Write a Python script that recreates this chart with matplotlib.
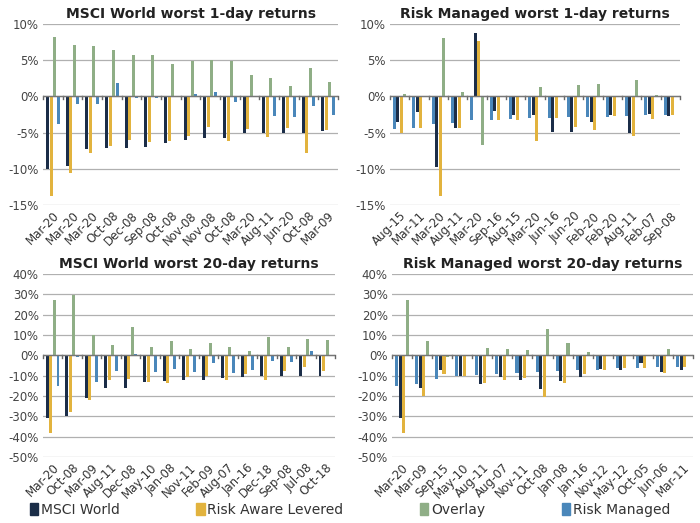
import matplotlib
matplotlib.use("Agg")
import matplotlib.pyplot as plt
import numpy as np
from matplotlib.patches import Patch

series = ["MSCI World", "Risk Aware Levered", "Overlay", "Risk Managed"]
colors = {"MSCI World": "#1b2d48", "Risk Aware Levered": "#e2b33e",
          "Overlay": "#8fae86", "Risk Managed": "#4a87ba"}

# Panel 1: MSCI World worst 1-day
p1_cats = ["Mar-20","Mar-20","Mar-20","Oct-08","Dec-08","Sep-08","Oct-08","Nov-08","Nov-08","Oct-08","Mar-20","Aug-11","Jun-20","Oct-08","Mar-09"]
p1_msci = [-10,-9.6,-7.2,-7.1,-7.1,-7.0,-6.4,-6.0,-5.8,-5.7,-5.1,-5.1,-5.0,-5.0,-4.8]
p1_ral  = [-13.8,-10.6,-7.8,-6.8,-6.0,-6.3,-6.2,-5.5,-4.2,-6.2,-4.5,-5.6,-4.3,-7.8,-4.6]
p1_ovl  = [8.2,7.1,7.0,6.4,5.7,5.7,4.5,4.9,5.0,4.9,3.0,2.5,1.5,3.9,2.0]
p1_rm   = [-3.8,-1.1,-1.1,1.8,-0.2,-0.2,-0.1,0.4,0.6,-0.8,-0.1,-2.7,-2.9,-1.3,-2.5]

# Panel 2: Risk Managed worst 1-day
p2_cats = ["Aug-15","Mar-11","Mar-20","Aug-11","Mar-20","Sep-16","Aug-15","Mar-20","Jun-16","Jun-20","Feb-20","Feb-20","Aug-11","Feb-07","Sep-08"]
p2_rm   = [-4.5,-4.4,-3.8,-3.7,-3.3,-3.3,-3.1,-3.0,-3.0,-2.9,-2.9,-2.8,-2.7,-2.6,-2.6]
p2_msci = [-3.6,-2.2,-9.8,-4.3,8.7,-2.0,-2.6,-2.6,-4.9,-4.9,-3.6,-2.6,-5.1,-2.4,-2.7]
p2_ral  = [-5.0,-4.4,-13.7,-4.3,7.6,-3.3,-3.2,-6.1,-3.0,-4.2,-4.6,-2.7,-5.5,-3.1,-2.6]
p2_ovl  = [0.3,0.0,8.1,0.6,-6.7,0.0,0.0,1.3,0.0,1.6,1.7,0.0,2.3,0.2,0.0]

# Panel 3: MSCI World worst 20-day
p3_cats = ["Mar-20","Oct-08","Mar-09","Aug-11","Dec-08","May-10","Jan-08","Nov-11","Feb-09","Aug-07","Jan-16","Dec-18","Sep-08","Jul-08","Oct-18"]
p3_msci = [-31,-30,-21,-16,-16,-13,-12.5,-12,-12,-11,-10.5,-10,-10,-10,-10]
p3_ral  = [-38,-28,-22,-12,-11.5,-13,-13.5,-10.5,-10,-12,-9,-12,-7.5,-5.5,-7.5]
p3_ovl  = [27,29.5,10,5,14,4.3,7,3,6,4,2,9,4,8,7.5]
p3_rm   = [-15,-1,-13,-7.5,0.8,-8,-6.5,-8,-4,-8.5,-7,-3,-3.5,2,-0.5]

# Panel 4: Risk Managed worst 20-day
p4_cats = ["Mar-20","Mar-09","Sep-15","May-10","Aug-11","Aug-07","Nov-11","Oct-08","Jan-08","Jan-16","Nov-12","May-12","Oct-05","Jun-06","Mar-11"]
p4_rm   = [-15,-14,-11.5,-10,-9.5,-9,-8.5,-8,-7.5,-7,-7,-6,-6,-5.5,-5.5]
p4_msci = [-31,-16,-7,-10,-14,-10.5,-12,-16.5,-12.5,-10.5,-6.5,-7,-4,-8,-7]
p4_ral  = [-38,-20,-9,-10,-13.5,-12,-11,-20.5,-13.5,-9,-7,-6,-6,-8.5,-5.5]
p4_ovl  = [27,7,-1,0,3.5,3,2.5,13,6,1.5,0,0,0,3,0]

fig = plt.figure(figsize=(7, 5.23), dpi=100)
W, H = 700, 523

def panel(rect, title, cats, order, data, ylim, yticks):
    x0, x1, ytop, ybot = rect
    ax = fig.add_axes([x0/W, 1-ybot/H, (x1-x0)/W, (ybot-ytop)/H])
    n = len(cats)
    x = np.arange(n)
    bw = 0.18
    for i, (name, vals) in enumerate(zip(order, data)):
        ax.bar(x + (i-1.5)*bw, vals, width=bw*0.85, color=colors[name])
    ax.set_xlim(-0.5, n-0.5)
    ax.set_ylim(*ylim)
    ax.set_yticks(yticks)
    ax.set_yticklabels([f"{t}%" for t in yticks], fontsize=8.5, color="#444444")
    ax.yaxis.grid(True, color="#b0b0b0", lw=0.9)
    ax.set_axisbelow(True)
    ax.tick_params(axis="y", length=0, pad=3)
    ax.set_xticks(x)
    ax.set_xticklabels(cats, rotation=45, ha="right", rotation_mode="anchor", fontsize=8.5, color="#333333")
    ax.tick_params(axis="x", length=0, pad=3)
    for b in np.arange(n+1)-0.5:
        ax.plot([b, b], [0, -(ylim[1]-ylim[0])*0.012], color="#666666", lw=1.0, clip_on=False)
    ax.axhline(0, color="#777777", lw=1.0)
    for s in ax.spines.values():
        s.set_visible(False)
    ax.set_title(title, fontsize=10, fontweight="bold", color="#222222", pad=4)
    return ax

panel((43, 338, 24, 205), "MSCI World worst 1-day returns", p1_cats, series,
      [p1_msci, p1_ral, p1_ovl, p1_rm], (-15, 10), [10, 5, 0, -5, -10, -15])
order_rm = ["Risk Managed", "MSCI World", "Risk Aware Levered", "Overlay"]
panel((390, 680, 24, 205), "Risk Managed worst 1-day returns", p2_cats, order_rm,
      [p2_rm, p2_msci, p2_ral, p2_ovl], (-15, 10), [10, 5, 0, -5, -10, -15])
yt = [40, 30, 20, 10, 0, -10, -20, -30, -40, -50]
panel((43, 335, 274, 457), "MSCI World worst 20-day returns", p3_cats, series,
      [p3_msci, p3_ral, p3_ovl, p3_rm], (-50, 40), yt)
panel((392, 693, 274, 457), "Risk Managed worst 20-day returns", p4_cats, order_rm,
      [p4_rm, p4_msci, p4_ral, p4_ovl], (-50, 40), yt)

handles = [Patch(color=colors[s]) for s in series]
fig.legend(handles, series, loc="center", bbox_to_anchor=(0.5, 1-510/H), ncol=4,
           frameon=False, fontsize=10, handlelength=0.6, handleheight=0.9,
           handletextpad=0.2, columnspacing=5.5, labelcolor="#333333")

fig.savefig("out.png", dpi=100, facecolor="white")
